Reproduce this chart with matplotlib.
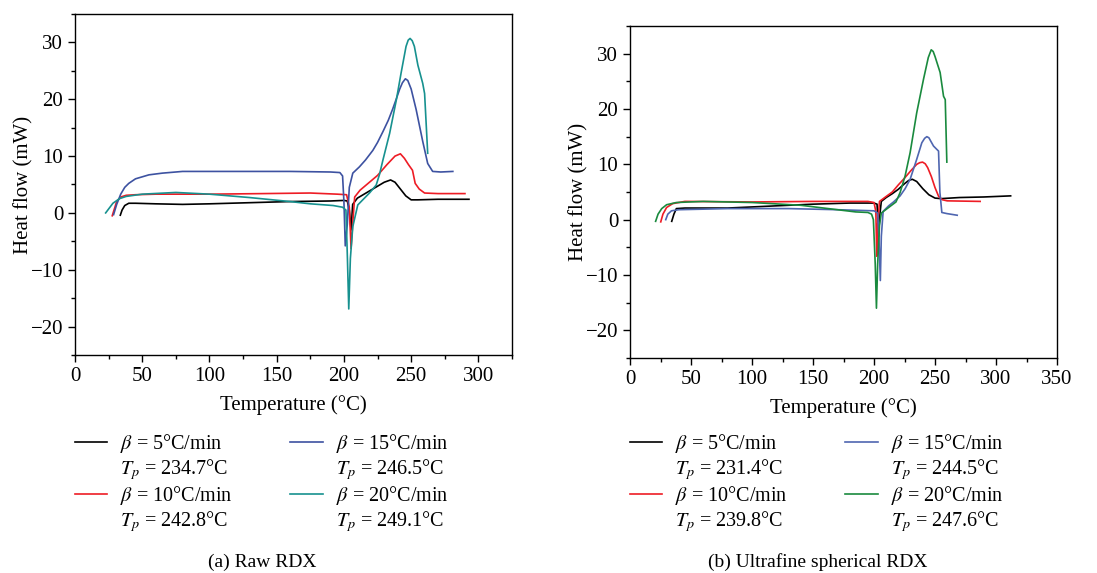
import matplotlib
matplotlib.use("Agg")
import matplotlib.pyplot as plt
from matplotlib.lines import Line2D
from matplotlib.ticker import MultipleLocator

plt.rcParams['font.family'] = ['Liberation Serif', 'DejaVu Serif']
plt.rcParams['mathtext.fontset'] = 'stix'

# (a) Raw RDX
raw5_x = [33.7, 35, 37, 40, 45, 60, 80, 100, 130, 160, 190, 200, 202.5, 204, 205.3, 206.5, 210, 215, 220, 225, 230, 234.7, 238, 242, 246, 250, 255, 270, 293]
raw5_y = [-0.4, 0.5, 1.3, 1.7, 1.7, 1.6, 1.5, 1.6, 1.8, 2.0, 2.1, 2.2, 2.1, 0.5, -3.0, 1.5, 2.6, 3.3, 4.0, 4.7, 5.4, 5.8, 5.4, 4.2, 3.0, 2.3, 2.3, 2.4, 2.4]
raw10_x = [27.7, 29, 31, 34, 38, 45, 60, 100, 140, 175, 195, 202, 204, 205.3, 206.5, 208, 212, 218, 225, 232, 238, 242, 245, 248, 251, 253, 256, 260, 270, 290]
raw10_y = [-0.5, 0.5, 2.0, 2.8, 3.1, 3.2, 3.3, 3.3, 3.4, 3.5, 3.3, 3.2, 1.0, -6.3, -2.0, 2.8, 4.0, 5.2, 6.6, 8.5, 10.0, 10.4, 9.6, 8.5, 7.5, 5.2, 4.2, 3.5, 3.4, 3.4]
raw15_x = [28.7, 31, 34, 37, 40, 45, 55, 65, 80, 120, 160, 190, 197, 199, 200, 201, 202.5, 204, 206.6, 211.5, 216, 221.5, 225, 229, 233, 236.3, 239, 241.5, 243.5, 245.7, 247.5, 250, 253.7, 258.6, 262.3, 266, 272, 281]
raw15_y = [-0.3, 1.5, 3.3, 4.5, 5.2, 6.0, 6.7, 7.0, 7.3, 7.3, 7.3, 7.2, 7.1, 6.5, 2.0, -5.8, -2.0, 4.5, 7.0, 8.1, 9.3, 11.0, 12.4, 14.3, 16.3, 18.3, 20.1, 21.8, 22.9, 23.6, 23.3, 21.8, 18.2, 12.6, 8.7, 7.3, 7.2, 7.3]
raw20_x = [22.8, 28.2, 33, 38, 50, 75, 100, 130, 160, 175, 192, 199, 201.5, 202.6, 203.6, 204.8, 206.6, 210.3, 214, 219, 224, 226.5, 229, 234, 239, 242.5, 246.2, 247.8, 249.2, 250.8, 252.4, 255, 258.6, 260, 262.3]
raw20_y = [0, 1.7, 2.5, 2.9, 3.3, 3.6, 3.3, 2.7, 2.0, 1.6, 1.3, 1.0, 0.5, -8.0, -16.9, -8.0, -2.4, 1.4, 2.3, 3.5, 4.9, 6.8, 9.3, 14.0, 19.9, 24.6, 29.3, 30.4, 30.7, 30.3, 29.3, 26.0, 22.8, 21.0, 10.5]
raw_tp = ['234.7', '242.8', '246.5', '249.1']

# (b) Ultrafine spherical RDX
uf5_x = [34.2, 36, 38, 45, 80, 120, 150, 180, 200, 202.5, 203.8, 204.6, 206, 210, 215, 220, 225, 228.5, 231.4, 235, 240, 245, 250, 255, 270, 290, 312]
uf5_y = [-0.3, 1.0, 2.0, 2.1, 2.1, 2.5, 2.8, 3.0, 3.0, 2.8, -3.0, 0.5, 3.3, 4.0, 4.7, 5.5, 6.5, 7.1, 7.3, 6.9, 5.6, 4.5, 3.9, 3.8, 4.0, 4.1, 4.3]
uf10_x = [25.2, 27, 30, 35, 45, 100, 150, 195, 200, 201.5, 202.3, 203, 204.5, 210, 215, 220, 225, 230, 235, 237.5, 239.8, 242, 244, 247, 250, 253, 256, 260, 287]
uf10_y = [-0.4, 1.0, 2.2, 2.9, 3.3, 3.2, 3.3, 3.3, 3.1, 1.5, -6.6, -1.0, 3.3, 4.2, 5.0, 6.3, 7.5, 8.8, 10.0, 10.3, 10.4, 10.1, 9.4, 7.8, 5.8, 4.2, 3.6, 3.4, 3.3]
uf15_x = [29.3, 31, 34, 40, 80, 130, 170, 200, 203, 204, 205.2, 206, 207.5, 212, 216, 221.4, 225.5, 229.6, 235, 239.2, 241.5, 243.3, 245, 246.5, 248.8, 251.5, 252.9, 254, 255.6, 259.7, 268.2]
uf15_y = [0, 1.0, 1.6, 1.8, 2.0, 2.0, 1.8, 1.6, 1.2, -3.0, -11.0, -3.0, 1.5, 2.5, 3.2, 4.3, 5.6, 7.3, 10.9, 13.9, 14.7, 15.0, 14.8, 14.2, 13.3, 12.7, 12.4, 5.0, 1.3, 1.1, 0.8]
uf20_x = [21, 23, 26, 30, 38, 60, 100, 140, 170, 185, 195, 198, 199.5, 201, 202, 203, 204.5, 206, 212, 218, 221.4, 225.5, 229.6, 235, 240.6, 244.5, 246.9, 248.5, 250, 254.2, 257, 258.4, 259.7]
uf20_y = [-0.3, 1.0, 2.0, 2.7, 3.1, 3.3, 3.1, 2.6, 1.8, 1.4, 1.3, 1.0, 0, -8.0, -16.0, -8.0, -1.0, 1.2, 2.2, 3.2, 4.9, 7.9, 12.1, 19.3, 25.4, 29.3, 30.7, 30.4, 29.5, 26.6, 22.3, 21.7, 10.4]
uf_tp = ['231.4', '239.8', '244.5', '247.6']

rates = ['5', '10', '15', '20']

fig = plt.figure(figsize=(10.97, 5.73), dpi=100)
ax1 = fig.add_axes([75/1097, 1-355/573, 437/1097, 341/573])
ax2 = fig.add_axes([630/1097, 1-358/573, 427/1097, 332/573])


def style(ax, xmax):
    ax.set_xlim(0, xmax)
    ax.set_ylim(-25, 35)
    ax.xaxis.set_major_locator(MultipleLocator(50))
    ax.xaxis.set_minor_locator(MultipleLocator(25))
    ax.yaxis.set_major_locator(MultipleLocator(10))
    ax.yaxis.set_minor_locator(MultipleLocator(5))
    ax.tick_params(which='both', direction='out', top=False, right=False, labelsize=15)
    ax.tick_params(which='major', length=5, width=1)
    ax.tick_params(which='minor', length=3, width=1)
    for s in ax.spines.values():
        s.set_linewidth(1)
    ax.set_xlabel('Temperature (°C)', fontsize=15, labelpad=7)
    ax.set_ylabel('Heat flow (mW)', fontsize=15, labelpad=-2)


def legend(handles, tps, x0):
    blank = Line2D([], [], linestyle='none')
    hs, ls = [], []
    for h, r, tp in zip(handles, rates, tps):
        hs += [h, blank]
        ls += [r'$\beta$ = ' + r + '°C/min', r'$T_p$ = ' + tp + '°C']
    fig.legend(hs, ls, ncol=2, loc='upper left', bbox_to_anchor=(x0/1097, 1-432/573),
               frameon=False, fontsize=14.5, borderpad=0, borderaxespad=0,
               handlelength=1.6, handletextpad=0.65, labelspacing=0.1, columnspacing=2.85)


lw = 1.2
h1 = ax1.plot(raw5_x, raw5_y, color='black', lw=lw)[0]
h2 = ax1.plot(raw10_x, raw10_y, color='#ee1c25', lw=lw)[0]
h3 = ax1.plot(raw15_x, raw15_y, color='#3d52a1', lw=lw)[0]
h4 = ax1.plot(raw20_x, raw20_y, color='#17918f', lw=lw)[0]
style(ax1, 325)
legend([h1, h2, h3, h4], raw_tp, 75)

g1 = ax2.plot(uf5_x, uf5_y, color='black', lw=lw)[0]
g2 = ax2.plot(uf10_x, uf10_y, color='#ee1c25', lw=lw)[0]
g3 = ax2.plot(uf15_x, uf15_y, color='#4f66b0', lw=lw)[0]
g4 = ax2.plot(uf20_x, uf20_y, color='#1a8a3e', lw=lw)[0]
style(ax2, 350)
legend([g1, g2, g3, g4], uf_tp, 630)

fig.text(262/1097, 1-562/573, '(a) Raw RDX', ha='center', va='center', fontsize=14)
fig.text(818/1097, 1-562/573, '(b) Ultrafine spherical RDX', ha='center', va='center', fontsize=14)

fig.savefig('out.png', dpi=100)
